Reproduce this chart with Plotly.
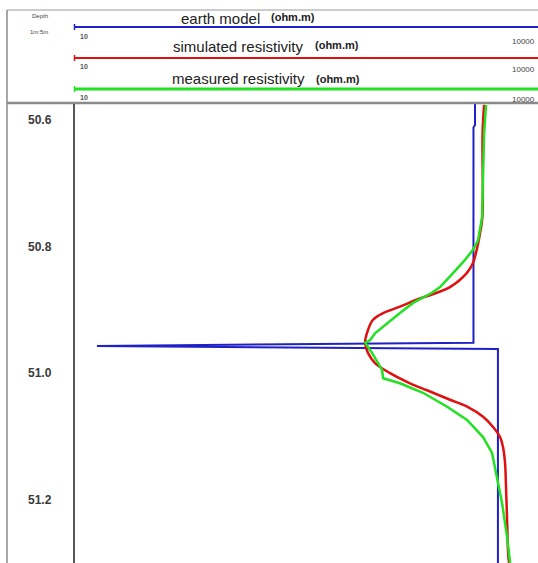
import plotly.graph_objects as go

# ---- data ----
depth_ticks = [50.6, 50.8, 51.0, 51.2]
depth_tick_labels = ["50.6", "50.8", "51.0", "51.2"]

model_depth = [50.5747, 50.608, 50.612, 50.952, 50.957, 50.962, 51.30]
model_res = [3580, 3580, 3500, 3500, 14, 5010, 5010]

sim_depth = [50.576, 50.621, 50.753, 50.779, 50.805, 50.826, 50.842, 50.864, 50.873,
             50.884, 50.895, 50.905, 50.916, 50.932, 50.952, 50.968, 50.984, 51.000,
             51.016, 51.027, 51.042, 51.053, 51.069, 51.085, 51.101, 51.117, 51.142,
             51.180, 51.232, 51.284, 51.300]
sim_res = [4090, 4000, 3990, 3855, 3670, 3475, 3170, 2480, 2040,
           1520, 1190, 930, 800, 745, 714, 745, 826, 1030,
           1380, 1770, 2480, 3190, 4030, 4665, 5170, 5400, 5560,
           5640, 5730, 5815, 5900]

meas_depth = [50.576, 50.621, 50.753, 50.790, 50.805, 50.821, 50.842, 50.864, 50.873,
              50.889, 50.905, 50.921, 50.937, 50.948, 50.952, 50.968, 50.995, 51.008,
              51.016, 51.031, 51.053, 51.074, 51.101, 51.126, 51.164, 51.205, 51.259,
              51.300]
meas_res = [4207, 4090, 3970, 3743, 3475, 3093, 2593, 2143, 1905,
            1443, 1191, 986, 826, 768, 714, 791, 916, 930,
            1191, 1670, 2377, 3186, 4027, 4596, 4945, 5322, 5729,
            5991]

scale_min_label = "10"
scale_max_label = "10000"
track_titles = ["earth model", "simulated resistivity", "measured resistivity"]
track_colors = ["#2020c8", "#e01010", "#22e022"]

W, H = 538, 563
BLUE, RED, GREEN = track_colors


def px(x):
    return x / W


def py(y):
    return 1 - y / H


fig = go.Figure()
fig.add_trace(go.Scatter(x=model_res, y=model_depth, mode="lines",
                         line=dict(color=BLUE, width=2), showlegend=False))
fig.add_trace(go.Scatter(x=sim_res, y=sim_depth, mode="lines", line_shape="spline",
                         line=dict(color=RED, width=2.5), showlegend=False))
fig.add_trace(go.Scatter(x=meas_res, y=meas_depth, mode="lines",
                         line=dict(color=GREEN, width=2.5), showlegend=False))

shapes = []
# outer box lines
shapes.append(dict(type="line", xref="paper", yref="paper", x0=px(7), x1=px(538), y0=py(10), y1=py(10),
                   line=dict(color="#9a9a9a", width=1.2)))
shapes.append(dict(type="line", xref="paper", yref="paper", x0=px(7), x1=px(7), y0=py(10), y1=py(563),
                   line=dict(color="#8a8a8a", width=1.5)))
shapes.append(dict(type="line", xref="paper", yref="paper", x0=px(7), x1=px(538), y0=py(103), y1=py(103),
                   line=dict(color="#8a8a8a", width=2.5)))
shapes.append(dict(type="line", xref="paper", yref="paper", x0=px(74), x1=px(74), y0=py(104), y1=py(563),
                   line=dict(color="#444444", width=1.8)))

# header scale lines
scale_y = [27, 58, 89]
scale_w = [2, 2, 3]
for yy, col, w in zip(scale_y, track_colors, scale_w):
    shapes.append(dict(type="line", xref="paper", yref="paper", x0=px(74), x1=px(538), y0=py(yy), y1=py(yy),
                       line=dict(color=col, width=w)))
    shapes.append(dict(type="line", xref="paper", yref="paper", x0=px(74.5), x1=px(74.5), y0=py(yy - 3), y1=py(yy + 3),
                       line=dict(color=col, width=1.5)))

annotations = []
FONT = "Liberation Sans, Arial, sans-serif"
for v, t in zip(depth_ticks, depth_tick_labels):
    annotations.append(dict(xref="paper", yref="y", x=px(40), y=v, text="<b>%s</b>" % t, showarrow=False,
                            xanchor="center", yanchor="middle", font=dict(family=FONT, size=12, color="#3a3a3a")))

annotations.append(dict(xref="paper", yref="paper", x=px(40), y=py(16), text="Depth", showarrow=False,
                        xanchor="center", yanchor="middle", font=dict(family=FONT, size=6, color="#444")))
annotations.append(dict(xref="paper", yref="paper", x=px(39), y=py(32), text="1m:5m", showarrow=False,
                        xanchor="center", yanchor="middle", font=dict(family=FONT, size=6, color="#444")))

title_pos = [(220, 18, 293, 17), (238, 46, 337, 45), (238, 78, 338, 79)]
for (tx, ty, ux, uy), title in zip(title_pos, track_titles):
    annotations.append(dict(xref="paper", yref="paper", x=px(tx), y=py(ty), text=title, showarrow=False,
                            xanchor="center", yanchor="middle", font=dict(family=FONT, size=15, color="#222")))
    annotations.append(dict(xref="paper", yref="paper", x=px(ux), y=py(uy), text="<b>(ohm.m)</b>", showarrow=False,
                            xanchor="center", yanchor="middle", font=dict(family=FONT, size=11, color="#222")))

min_y = [36, 67, 98]
max_y = [42, 70, 99]
for a, b in zip(min_y, max_y):
    annotations.append(dict(xref="paper", yref="paper", x=px(78), y=py(a), text="<b>%s</b>" % scale_min_label,
                            showarrow=False, xanchor="left", yanchor="middle",
                            font=dict(family=FONT, size=7, color="#555")))
    annotations.append(dict(xref="paper", yref="paper", x=px(537), y=py(b), text=scale_max_label,
                            showarrow=False, xanchor="right", yanchor="middle",
                            font=dict(family=FONT, size=8, color="#444")))

fig.update_layout(
    width=W, height=H,
    margin=dict(l=0, r=0, t=0, b=0),
    paper_bgcolor="white", plot_bgcolor="white",
    shapes=shapes, annotations=annotations,
    xaxis=dict(type="log", range=[1, 3.955], domain=[px(74), 1], showgrid=False, zeroline=False,
               showticklabels=False, ticks="", showline=False),
    yaxis=dict(range=[51.30, 50.5747], domain=[0, 1 - 104 / H], showgrid=False, zeroline=False,
               showticklabels=False, ticks="", showline=False),
)

fig.write_html("out.html", config={"displayModeBar": False},
               post_script="document.body.style.margin='0';document.body.style.overflow='hidden';")
